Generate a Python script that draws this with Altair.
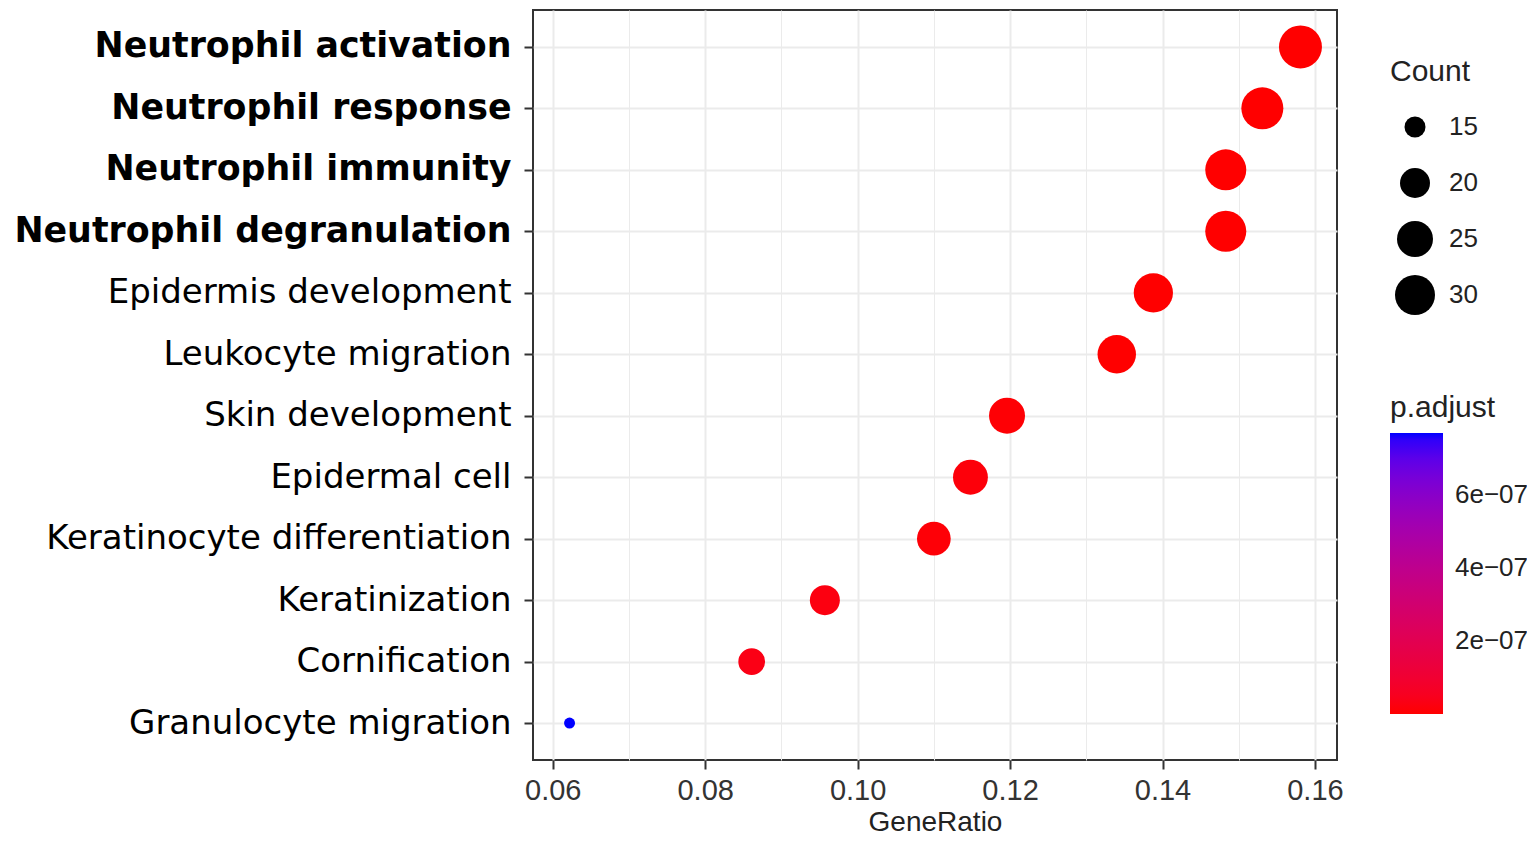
import json
import altair as alt
import pandas as pd

terms = [
    "Neutrophil activation",
    "Neutrophil response",
    "Neutrophil immunity",
    "Neutrophil degranulation",
    "Epidermis development",
    "Leukocyte migration",
    "Skin development",
    "Epidermal cell",
    "Keratinocyte differentiation",
    "Keratinization",
    "Cornification",
    "Granulocyte migration",
]
gene_ratio = [0.1581, 0.1531, 0.1483, 0.1483, 0.1388, 0.1340, 0.1196, 0.1148, 0.1100, 0.0957, 0.0861, 0.0622]
counts = [33, 32, 31, 31, 29, 28, 25, 24, 23, 20, 18, 13]
p_adjust = [1.2e-12, 1.5e-12, 2.0e-12, 2.0e-12, 3.0e-10, 5.0e-11, 6.0e-9, 1.2e-8, 9.0e-9, 2.0e-8, 2.9e-8, 7.7e-7]
bold_terms = ["Neutrophil activation", "Neutrophil response", "Neutrophil immunity", "Neutrophil degranulation"]

df = pd.DataFrame({"Description": terms, "GeneRatio": gene_ratio, "Count": counts, "padj": p_adjust})

rng = max(gene_ratio) - min(gene_ratio)
x_dom = [min(gene_ratio) - 0.05 * rng, max(gene_ratio) + 0.05 * rng]

major_test = "round(datum.value*100) % 2 == 0"
bold_test = "indexof(" + json.dumps(bold_terms) + ", datum.value) >= 0"

chart = alt.Chart(df).mark_circle(opacity=1, strokeWidth=0).encode(
    x=alt.X(
        "GeneRatio:Q",
        title="GeneRatio",
        scale=alt.Scale(domain=x_dom, nice=False, zero=False),
        axis=alt.Axis(
            values=[0.06, 0.07, 0.08, 0.09, 0.10, 0.11, 0.12, 0.13, 0.14, 0.15, 0.16],
            labelExpr="round(datum.value*100) % 2 == 0 ? format(datum.value, '.2f') : ''",
            grid=True,
            gridColor="#EBEBEB",
            gridWidth={"condition": {"test": major_test, "value": 2}, "value": 1},
            tickOpacity={"condition": {"test": major_test, "value": 1}, "value": 0},
            tickColor="#333333",
            tickWidth=2,
            tickSize=9,
            domain=False,
            labelFont="Liberation Sans",
            labelFontSize=29,
            labelColor="#333333",
            labelPadding=7,
            labelFlush=False,
            titleFont="Liberation Sans",
            titleFontSize=28,
            titleFontWeight="normal",
            titleColor="#222222",
            titlePadding=3,
        ),
    ),
    y=alt.Y(
        "Description:N",
        sort=None,
        title=None,
        scale=alt.Scale(type="point", padding=0.6),
        axis=alt.Axis(
            grid=True,
            gridColor="#EBEBEB",
            gridWidth=2,
            tickColor="#333333",
            tickWidth=2,
            tickSize=9,
            domain=False,
            labelFont="DejaVu Sans",
            labelFontSize={"condition": {"test": bold_test, "value": 34.8}, "value": 34},
            labelColor="#000000",
            labelFontWeight={"condition": {"test": bold_test, "value": "bold"}, "value": "normal"},
            labelPadding=13,
            labelLimit=600,
        ),
    ),
    size=alt.Size(
        "Count:Q",
        scale=alt.Scale(domain=[13, 15, 20, 25, 30, 33], range=[121, 441, 900, 1296, 1600, 1849]),
        legend=alt.Legend(
            title="Count",
            values=[15, 20, 25, 30],
            orient="none",
            legendX=857,
            legendY=47,
            titleFont="Liberation Sans",
            titleFontSize=30,
            titleFontWeight="normal",
            titleColor="#222222",
            titlePadding=20,
            labelFont="Liberation Sans",
            labelFontSize=26,
            labelColor="#222222",
            labelOffset=14,
            symbolOffset=5,
            symbolFillColor="black",
            symbolStrokeWidth=0,
            symbolOpacity=1,
            symbolType="circle",
            clipHeight=40,
            rowPadding=16,
            padding=0,
        ),
    ),
    color=alt.Color(
        "padj:Q",
        scale=alt.Scale(
            domain=[min(p_adjust), max(p_adjust)],
            range=["#FF0000", "#0000FF"],
            interpolate="lab",
            nice=False,
            zero=False,
        ),
        legend=alt.Legend(
            title="p.adjust",
            values=[2e-7, 4e-7, 6e-7],
            labelExpr="format(datum.value*1e7, '.0f') + 'e\u221207'",
            orient="none",
            direction="vertical",
            legendX=857,
            legendY=383,
            gradientLength=281,
            gradientThickness=53,
            gradientStrokeWidth=0,
            titleFont="Liberation Sans",
            titleFontSize=30,
            titleFontWeight="normal",
            titleColor="#222222",
            titlePadding=10,
            labelFont="Liberation Sans",
            labelFontSize=26,
            labelColor="#222222",
            labelOffset=12,
            padding=0,
        ),
    ),
).properties(
    width=804,
    height=750,
    autosize=alt.AutoSizeParams(type="none"),
    padding={"left": 525, "top": 2, "right": 190, "bottom": 76},
).configure_view(
    stroke="#333333",
    strokeWidth=2,
)

chart.save("out.html", embed_options={"renderer": "svg", "actions": False})
